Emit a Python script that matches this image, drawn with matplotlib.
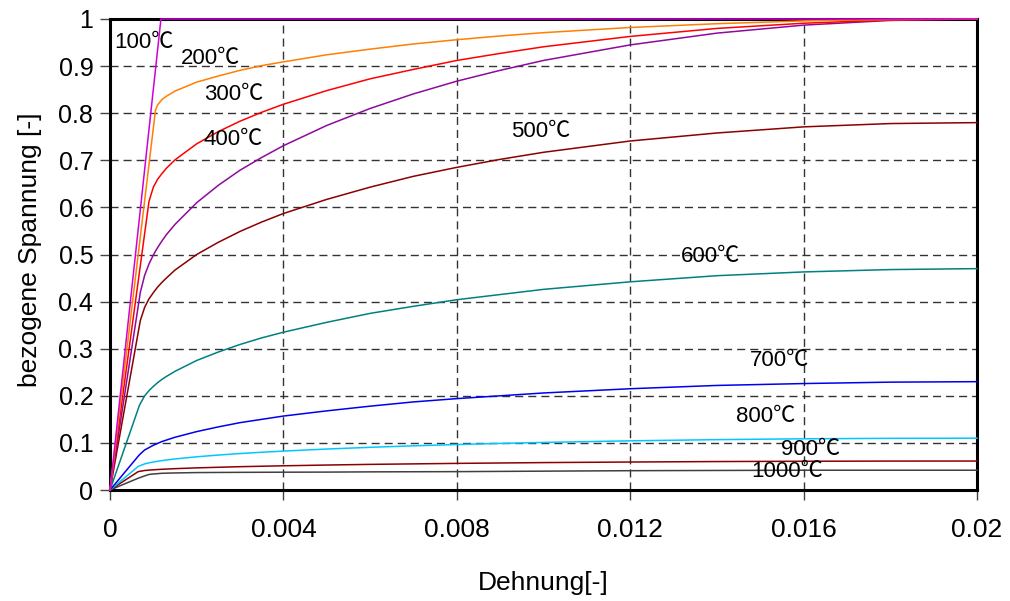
import matplotlib
matplotlib.use("Agg")
import matplotlib.pyplot as plt

# ---- data ----
s100 = [0, 0.001175, 0.020]
t100 = [0, 1.0, 1.0]

s200 = [0, 0.00105, 0.0011, 0.0012, 0.0013, 0.0015, 0.002, 0.0025, 0.003, 0.0035, 0.004,
        0.005, 0.006, 0.007, 0.008, 0.009, 0.010, 0.012, 0.014, 0.016, 0.018, 0.020]
t200 = [0, 0.807, 0.818, 0.829, 0.836, 0.847, 0.866, 0.879, 0.891, 0.901, 0.909,
        0.924, 0.936, 0.947, 0.956, 0.964, 0.971, 0.982, 0.990, 0.996, 0.999, 1.0]

s300 = [0, 0.0009, 0.001, 0.0011, 0.0012, 0.0013, 0.0015, 0.002, 0.0025, 0.003, 0.0035,
        0.004, 0.005, 0.006, 0.007, 0.008, 0.009, 0.010, 0.012, 0.014, 0.016, 0.018, 0.020]
t300 = [0, 0.613, 0.643, 0.660, 0.672, 0.683, 0.701, 0.735, 0.761, 0.783, 0.802,
        0.819, 0.848, 0.873, 0.893, 0.912, 0.927, 0.941, 0.963, 0.980, 0.991, 0.998, 1.0]

s400 = [0, 0.0007, 0.0008, 0.0009, 0.001, 0.0011, 0.0012, 0.0013, 0.0015, 0.002, 0.0025,
        0.003, 0.0035, 0.004, 0.005, 0.006, 0.007, 0.008, 0.009, 0.010, 0.012, 0.014,
        0.016, 0.018, 0.020]
t400 = [0, 0.420, 0.456, 0.480, 0.499, 0.515, 0.529, 0.542, 0.564, 0.610, 0.647,
        0.679, 0.706, 0.731, 0.774, 0.810, 0.841, 0.868, 0.891, 0.912, 0.945, 0.970,
        0.987, 0.997, 1.0]

s500 = s400
t500 = [0, 0.360, 0.388, 0.406, 0.419, 0.431, 0.441, 0.450, 0.467, 0.500, 0.526,
        0.549, 0.569, 0.587, 0.617, 0.643, 0.666, 0.685, 0.702, 0.717, 0.741, 0.758,
        0.771, 0.778, 0.780]

s600 = [0, 0.00068, 0.0008, 0.0009, 0.001, 0.0011, 0.0012, 0.0013, 0.0015, 0.002, 0.0025,
        0.003, 0.0035, 0.004, 0.005, 0.006, 0.007, 0.008, 0.009, 0.010, 0.012, 0.014,
        0.016, 0.018, 0.020]
t600 = [0, 0.180, 0.200, 0.211, 0.220, 0.228, 0.235, 0.241, 0.252, 0.275, 0.293,
        0.309, 0.323, 0.335, 0.356, 0.375, 0.390, 0.404, 0.415, 0.426, 0.442, 0.455,
        0.463, 0.468, 0.470]

s700 = s600
t700 = [0, 0.075, 0.085, 0.090, 0.095, 0.099, 0.103, 0.106, 0.112, 0.124, 0.134,
        0.143, 0.150, 0.157, 0.168, 0.178, 0.187, 0.194, 0.200, 0.206, 0.215, 0.222,
        0.226, 0.229, 0.230]

s800 = [0, 0.00065, 0.0008, 0.0009, 0.001, 0.0011, 0.0012, 0.0013, 0.0015, 0.002, 0.0025,
        0.003, 0.0035, 0.004, 0.005, 0.006, 0.007, 0.008, 0.009, 0.010, 0.012, 0.014,
        0.016, 0.018, 0.020]
t800 = [0, 0.050, 0.0555, 0.0577, 0.0595, 0.0610, 0.0624, 0.0636, 0.0659, 0.0705, 0.0742,
        0.0774, 0.0801, 0.0826, 0.0870, 0.0906, 0.0938, 0.0965, 0.0989, 0.1010, 0.1044,
        0.1069, 0.1087, 0.1097, 0.110]

s900 = [0, 0.00065, 0.0008, 0.0009, 0.001, 0.0012, 0.0015, 0.002, 0.003, 0.004, 0.005,
        0.006, 0.008, 0.010, 0.012, 0.014, 0.016, 0.018, 0.020]
t900 = [0, 0.039, 0.0414, 0.0422, 0.0429, 0.0440, 0.0453, 0.0470, 0.0495, 0.0514, 0.0530,
        0.0544, 0.0565, 0.0582, 0.0594, 0.0604, 0.0610, 0.0614, 0.0615]

s1000 = s900
t1000 = [0, 0.025, 0.030, 0.033, 0.034, 0.0355, 0.0362, 0.0370, 0.0375, 0.0378, 0.0380,
         0.0385, 0.0390, 0.0400, 0.0410, 0.0415, 0.0420, 0.0420, 0.0420]

labels = ["100℃", "200℃", "300℃", "400℃", "500℃", "600℃", "700℃", "800℃", "900℃", "1000℃"]
label_x = [0.00078, 0.00231, 0.00285, 0.00285, 0.00994, 0.01385, 0.01545, 0.01512, 0.01617, 0.01561]
label_y = [0.951, 0.917, 0.839, 0.745, 0.762, 0.495, 0.274, 0.157, 0.087, 0.040]

xticks = [0, 0.004, 0.008, 0.012, 0.016, 0.02]
xticklabels = ["0", "0.004", "0.008", "0.012", "0.016", "0.02"]
yticks = [0, 0.1, 0.2, 0.3, 0.4, 0.5, 0.6, 0.7, 0.8, 0.9, 1.0]
yticklabels = ["0", "0.1", "0.2", "0.3", "0.4", "0.5", "0.6", "0.7", "0.8", "0.9", "1"]

curves = [(s1000, t1000, "#404040"), (s900, t900, "#8B0000"), (s800, t800, "#00C8FF"),
          (s700, t700, "#0000F0"), (s600, t600, "#008080"), (s500, t500, "#8B0000"),
          (s400, t400, "#8E0A9E"), (s300, t300, "#FF0000"), (s200, t200, "#FF7F00"),
          (s100, t100, "#D000D8")]

fam = ["Liberation Sans", "Noto Sans CJK SC", "DejaVu Sans"]
plt.rcParams["font.family"] = fam

fig = plt.figure(figsize=(10.10, 6.01), dpi=100)
ax = fig.add_axes([110 / 1010, 1 - 490 / 601, 867 / 1010, 471 / 601])

for s, t, c in curves:
    ax.plot(s, t, color=c, lw=1.1, zorder=3, clip_on=False)

for txt, x, y in zip(labels, label_x, label_y):
    ax.text(x, y, txt, fontsize=16, ha="center", va="center", family=fam, zorder=4)

ax.set_xlim(0, 0.02)
ax.set_ylim(0, 1)
ax.set_xticks(xticks)
ax.set_xticklabels(xticklabels)
ax.set_yticks(yticks)
ax.set_yticklabels(yticklabels)
ax.tick_params(axis="x", direction="out", length=7, width=1, color="#444444",
               labelsize=19, pad=13)
ax.tick_params(axis="y", direction="out", length=7, width=1, color="#444444",
               labelsize=18, pad=5)

ax.grid(True, color="#333333", lw=1.0, linestyle=(0, (5.8, 3.6)))
ax.set_axisbelow(True)
for sp in ax.spines.values():
    sp.set_linewidth(2.2)
    sp.set_color("black")

ax.set_xlabel("Dehnung[-]", fontsize=19, va="center")
ax.xaxis.set_label_coords(0.5, (490 - 583) / 471)
ax.set_ylabel("bezogene Spannung [-]", fontsize=19, va="center")
ax.yaxis.set_label_coords((30 - 110) / 867, 0.51)

fig.savefig("out.png", dpi=100)
